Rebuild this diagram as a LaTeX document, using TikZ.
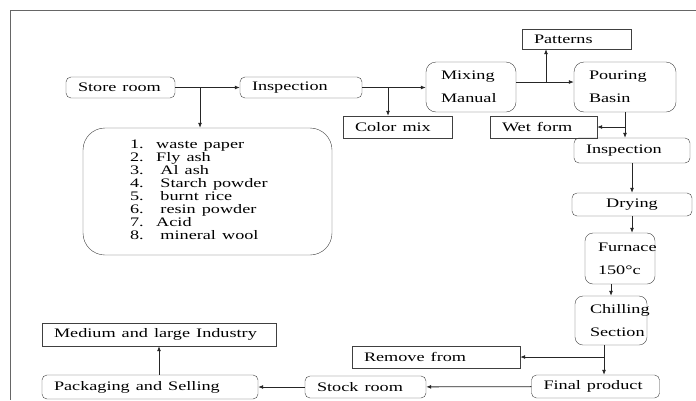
\documentclass[tikz,border=0pt]{standalone}
\usepackage{fontspec}
\usepackage{graphicx}
\setmainfont{Liberation Serif}
\newcommand{\wide}[1]{\scalebox{1.4}[1]{#1}}
\usetikzlibrary{arrows.meta}
\usetikzlibrary{positioning}

\begin{document}
\begin{tikzpicture}[x=1pt, y=-1pt,
  box/.style={draw=black!75, inner xsep=12pt, inner ysep=0pt, align=left,
    font=\fontsize{13}{23}\selectfont},
  rbox/.style={box, rounded corners=5pt},
  tall/.style={box, rounded corners=10pt, inner xsep=15pt},
  arr/.style={draw=black!85, line width=0.8pt, -{Latex[length=5pt,width=4pt]}}]
  \useasboundingbox (0,0) rectangle (696,400);

  % Frame
  \draw[black!60, line width=0.8pt] (696,10) -- (10,10) -- (10,400);

  % Top row
  \node[rbox, text width=85pt,  minimum height=21pt] (store)    at (120.5,87.5) {\wide{Store room}};
  \node[rbox, text width=98pt,  minimum height=21pt] (insp1)    at (301,87.5)   {\wide{Inspection}};
  \node[box,  text width=85pt,  minimum height=22pt] (colormix) at (397.5,127)  {\wide{Color mix}};
  \node[tall, text width=60pt,  minimum height=50pt] (mix)      at (471,87)     {\wide{Mixing}\\\wide{Manual}};
  \node[box,  text width=85pt,  minimum height=20pt] (patterns) at (576.5,39)   {\wide{Patterns}};
  \node[tall, text width=72pt,  minimum height=50pt] (pour)     at (625,87)     {\wide{Pouring}\\\wide{Basin}};
  \node[box,  text width=83pt,  minimum height=22pt] (wetform)  at (543.5,127)  {\wide{Wet form}};

  % Raw materials
  \node[box, rounded corners=22pt, inner xsep=47pt, text width=155pt, minimum height=127pt,
    font=\fontsize{13}{13}\selectfont] (list) at (207.5,191.5) {%
    \wide{\begin{tabular}{@{}l@{\hspace{9pt}}l@{}}
      1. & waste paper\\
      2. & Fly ash\\
      3. & \hspace{3pt}Al ash\\
      4. & \hspace{3pt}Starch powder\\
      5. & \hspace{3pt}burnt rice\\
      6. & \hspace{3pt}resin powder\\
      7. & Acid\\
      8. & \hspace{3pt}mineral wool
    \end{tabular}}};

  % Right column
  \node[rbox, text width=92pt, minimum height=25pt] (insp2) at (632,150.5) {\wide{Inspection}};
  \node[rbox, text width=96pt, minimum height=23pt, align=center] (drying) at (632,204.5) {\wide{Drying}};
  \node[tall, rounded corners=8pt, inner xsep=13pt, text width=44pt, minimum height=51pt] (furnace) at (620,258.5) {\wide{Furnace}\\\wide{150°c}};
  \node[tall, rounded corners=8pt, text width=42pt, minimum height=49pt] (chilling) at (611,320.5) {\wide{Chilling}\\\wide{Section}};

  % Bottom row
  \node[box,  text width=144pt, minimum height=22pt] (remove)  at (436,357)   {\wide{Remove from}};
  \node[rbox, text width=104pt, minimum height=23pt] (final)   at (595.5,386.5) {\wide{Final product}};
  \node[rbox, text width=97pt,  minimum height=22pt] (stock)   at (365.5,387) {\wide{Stock room}};
  \node[rbox, text width=192pt, minimum height=24pt] (packing) at (150,387)   {\wide{Packaging and Selling}};
  \node[box,  text width=210pt, minimum height=23pt] (medium)  at (159,334.5) {\wide{Medium and large Industry}};

  % Branch points
  \coordinate (split1) at (200,87.5);
  \coordinate (split2) at (388,87.5);
  \coordinate (split3) at (546,82);
  \coordinate (split4) at (604,357);

  % Connectors
  \draw[arr] (store) -- (insp1);
  \draw[arr] (split1) -- (split1 |- list.north);
  \draw[arr] (insp1.east) -- (insp1.east -| mix.west);
  \draw[arr] (split2) -- (split2 |- colormix.north);
  \draw[arr] (mix.east |- split3) -- (pour.west |- split3);
  \draw[arr] (split3) -- (split3 |- patterns.south);
  \draw[arr] (pour.south) -- (pour.south |- insp2.north);
  \draw[arr] (pour.south |- wetform.east) -- (wetform.east);
  \draw[arr] (insp2) -- (drying);
  \draw[arr] (drying.south) -- (drying.south |- furnace.north);
  \draw[arr] (furnace.south -| chilling.north) -- (chilling.north);
  \draw[arr] (chilling.south -| split4) -- (final.north -| split4);
  \draw[arr] (split4) -- (remove.east |- split4);
  \draw[arr] (final) -- (stock);
  \draw[arr] (stock) -- (packing);
  \draw[arr] (packing.north -| medium.south) -- (medium.south);
\end{tikzpicture}
\end{document}
